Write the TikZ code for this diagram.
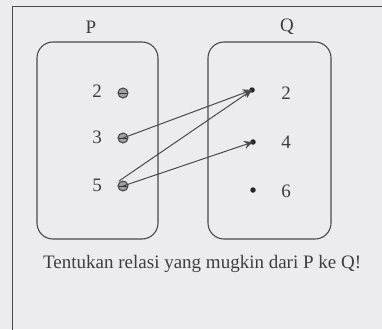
\documentclass[tikz,border=0pt]{standalone}
\usepackage{fontspec}
\setmainfont{Liberation Serif}
\usetikzlibrary{arrows.meta}
\definecolor{bg}{HTML}{ECEBEE}
\definecolor{ink}{HTML}{4A4A4A}
\definecolor{txt}{HTML}{3E3E3E}
\begin{document}
\begin{tikzpicture}[x=1pt,y=-1pt,
  setbox/.style={draw=ink,line width=1.1pt,rounded corners=16pt},
  lab/.style={font=\fontsize{19}{19}\selectfont,text=txt,inner sep=0pt},
  pdot/.style={circle,draw=black!75,fill=gray!75,line width=1pt,minimum size=10pt,inner sep=0pt},
  qdot/.style={circle,fill=black!85,minimum size=5.5pt,inner sep=0pt},
  arr/.style={draw=ink,line width=1pt,-{Stealth[length=9pt,width=8pt]}}]
\fill[bg] (0,0) rectangle (382,329);
\useasboundingbox (0,0) rectangle (382,329);
\draw[ink,line width=1pt] (12,340) -- (12,7) -- (395,7);
% sets
\draw[setbox] (37,42) rectangle (158,239);
\draw[setbox] (208,42) rectangle (331,239);
\node[lab] (P) at (91,27) {P};
\node[lab] (Q) at (287,27) {Q};
% P elements
\node[lab] (p2l) at (97,91) {2};
\node[lab] (p3l) at (97,137) {3};
\node[lab] (p5l) at (97,185) {5};
\node[pdot] (p2) at (123,93) {};
\node[pdot] (p3) at (123,138) {};
\node[pdot] (p5) at (123,186) {};
\foreach \n in {p2,p3,p5}{\draw[black!80,line width=0.9pt] ([xshift=-4pt]\n.center) -- ([xshift=4pt]\n.center);}
% Q elements
\node[lab] (q2l) at (286,93) {2};
\node[lab] (q4l) at (286,142) {4};
\node[lab] (q6l) at (286,191) {6};
\node[qdot] (q2) at (252,90) {};
\node[qdot] (q4) at (253,142) {};
\node[qdot] (q6) at (253,190) {};
\coordinate (p5a) at (119,181);
% arrows
\draw[arr] (p3.center) -- (q2.center);
\draw[arr] (p5a) -- (q2.center);
\draw[arr] (p5.center) -- (q4.center);
% caption
\node[lab,anchor=base west] (cap) at (43,268) {Tentukan relasi yang mugkin dari P ke Q!};
\end{tikzpicture}
\end{document}
